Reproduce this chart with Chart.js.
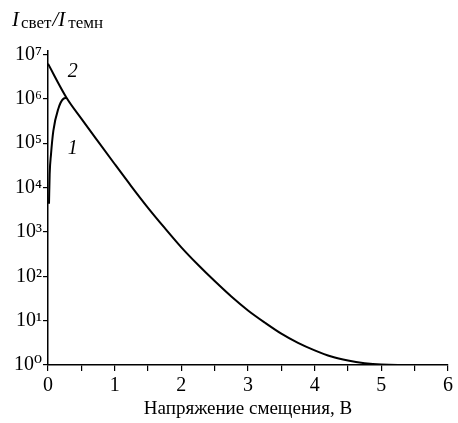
<!DOCTYPE html>
<html>
<head>
<meta charset="utf-8">
<script src="https://cdn.jsdelivr.net/npm/chart.js@4/dist/chart.umd.min.js"></script>
<style>
  html, body { margin: 0; padding: 0; background: #fff; }
  #wrap { width: 458px; height: 423px; }
</style>
</head>
<body>
<div id="wrap"><canvas id="chart" width="458" height="423"></canvas></div>
<script>
// curve 1
var voltage1 = [0.015, 0.025, 0.045, 0.08, 0.155, 0.23, 0.28];
var ratio1 = [4.3e3, 2.0e4, 5.6e4, 1.9e5, 6.0e5, 1.0e6, 1.05e6];

// curve 2
var voltage2 = [0, 0.28, 0.5, 0.75, 1.0, 1.25, 1.5, 1.75, 2.0, 2.25, 2.5, 2.75, 3.0, 3.25, 3.5, 3.75, 4.0, 4.25, 4.5, 4.75, 5.0, 5.25, 6.0];
var ratio2 = [6.2e6, 1.05e6, 3.6e5, 1.1e5, 3.4e4, 1.07e4, 3.5e3, 1.23e3, 450, 182, 78, 35, 17, 9.1, 5.1, 3.16, 2.14, 1.55, 1.26, 1.1, 1.02, 1, 1];

var yTicks = [1, 10, 100, 1e3, 1e4, 1e5, 1e6, 1e7];
var yTickLabels = ["10\u2070", "10\u00B9", "10\u00B2", "10\u00B3", "10\u2074", "10\u2075", "10\u2076", "10\u2077"];
var xTitle = "Напряжение смещения, В";

var serif = "'Liberation Serif', 'DejaVu Serif', serif";

function toPoints(xs, ys) {
  return xs.map(function (x, i) { return { x: x, y: ys[i] }; });
}

// axis caption at the top left and the curve numbers
var textPlugin = {
  id: "texts",
  afterDraw: function (chart) {
    var ctx = chart.ctx;
    var xs = chart.scales.x, ys = chart.scales.y;
    ctx.save();
    ctx.fillStyle = "#000";
    ctx.textBaseline = "alphabetic";
    ctx.textAlign = "left";

    var x = 12, base = 26;
    ctx.font = "italic 21px " + serif;
    ctx.fillText("I", x, base);
    x += ctx.measureText("I").width + 2;
    ctx.font = "17px " + serif;
    ctx.fillText("свет", x, base + 2);
    x += ctx.measureText("свет").width + 1;
    ctx.font = "italic 21px " + serif;
    ctx.fillText("/I", x, base);
    x += ctx.measureText("/I").width + 3;
    ctx.font = "17px " + serif;
    ctx.fillText("темн", x, base + 2);

    ctx.font = "italic 20px " + serif;
    ctx.textAlign = "center";
    ctx.textBaseline = "middle";
    ctx.fillText("2", xs.getPixelForValue(0.37), ys.getPixelForValue(4.0e6));
    ctx.fillText("1", xs.getPixelForValue(0.37), ys.getPixelForValue(7.5e4));
    ctx.restore();
  }
};

var context = document.getElementById("chart").getContext("2d");

var chart = new Chart(context, {
  type: "line",
  data: {
    datasets: [
      {
        label: "1",
        data: toPoints(voltage1, ratio1),
        borderColor: "#000",
        borderWidth: 2,
        pointRadius: 0,
        cubicInterpolationMode: "monotone",
        fill: false
      },
      {
        label: "2",
        data: toPoints(voltage2, ratio2),
        borderColor: "#000",
        borderWidth: 2,
        pointRadius: 0,
        cubicInterpolationMode: "monotone",
        fill: false
      }
    ]
  },
  options: {
    responsive: false,
    animation: false,
    layout: { padding: { top: 51, right: 10, bottom: 0, left: 0 } },
    plugins: {
      legend: { display: false },
      tooltip: { enabled: false }
    },
    scales: {
      x: {
        type: "linear",
        min: 0,
        max: 6,
        border: { display: true, color: "#000", width: 1.5 },
        grid: { drawOnChartArea: false, drawTicks: true, tickLength: 6, color: "#000", lineWidth: 1.2 },
        ticks: {
          stepSize: 0.5,
          color: "#000",
          padding: 3,
          maxRotation: 0,
          autoSkip: false,
          font: { family: serif, size: 20 },
          callback: function (v) { return Number.isInteger(v) ? String(v) : ""; }
        },
        title: {
          display: true,
          text: xTitle,
          color: "#000",
          font: { family: serif, size: 19 },
          padding: { top: 0, bottom: 3 }
        },
        afterFit: function (scale) { scale.height = 58; }
      },
      y: {
        type: "logarithmic",
        min: 1,
        max: 1.2e7,
        border: { display: true, color: "#000", width: 1.5 },
        grid: { drawOnChartArea: false, drawTicks: true, tickLength: 5, color: "#000", lineWidth: 1.2 },
        afterBuildTicks: function (scale) {
          scale.ticks = yTicks.map(function (v) { return { value: v }; });
        },
        ticks: {
          color: "#000",
          padding: 1,
          font: { family: serif, size: 20 },
          callback: function (v) {
            var i = yTicks.indexOf(v);
            return i >= 0 ? yTickLabels[i] : "";
          }
        },
        afterFit: function (scale) { scale.width = 48; }
      }
    }
  },
  plugins: [textPlugin]
});
</script>
</body>
</html>
